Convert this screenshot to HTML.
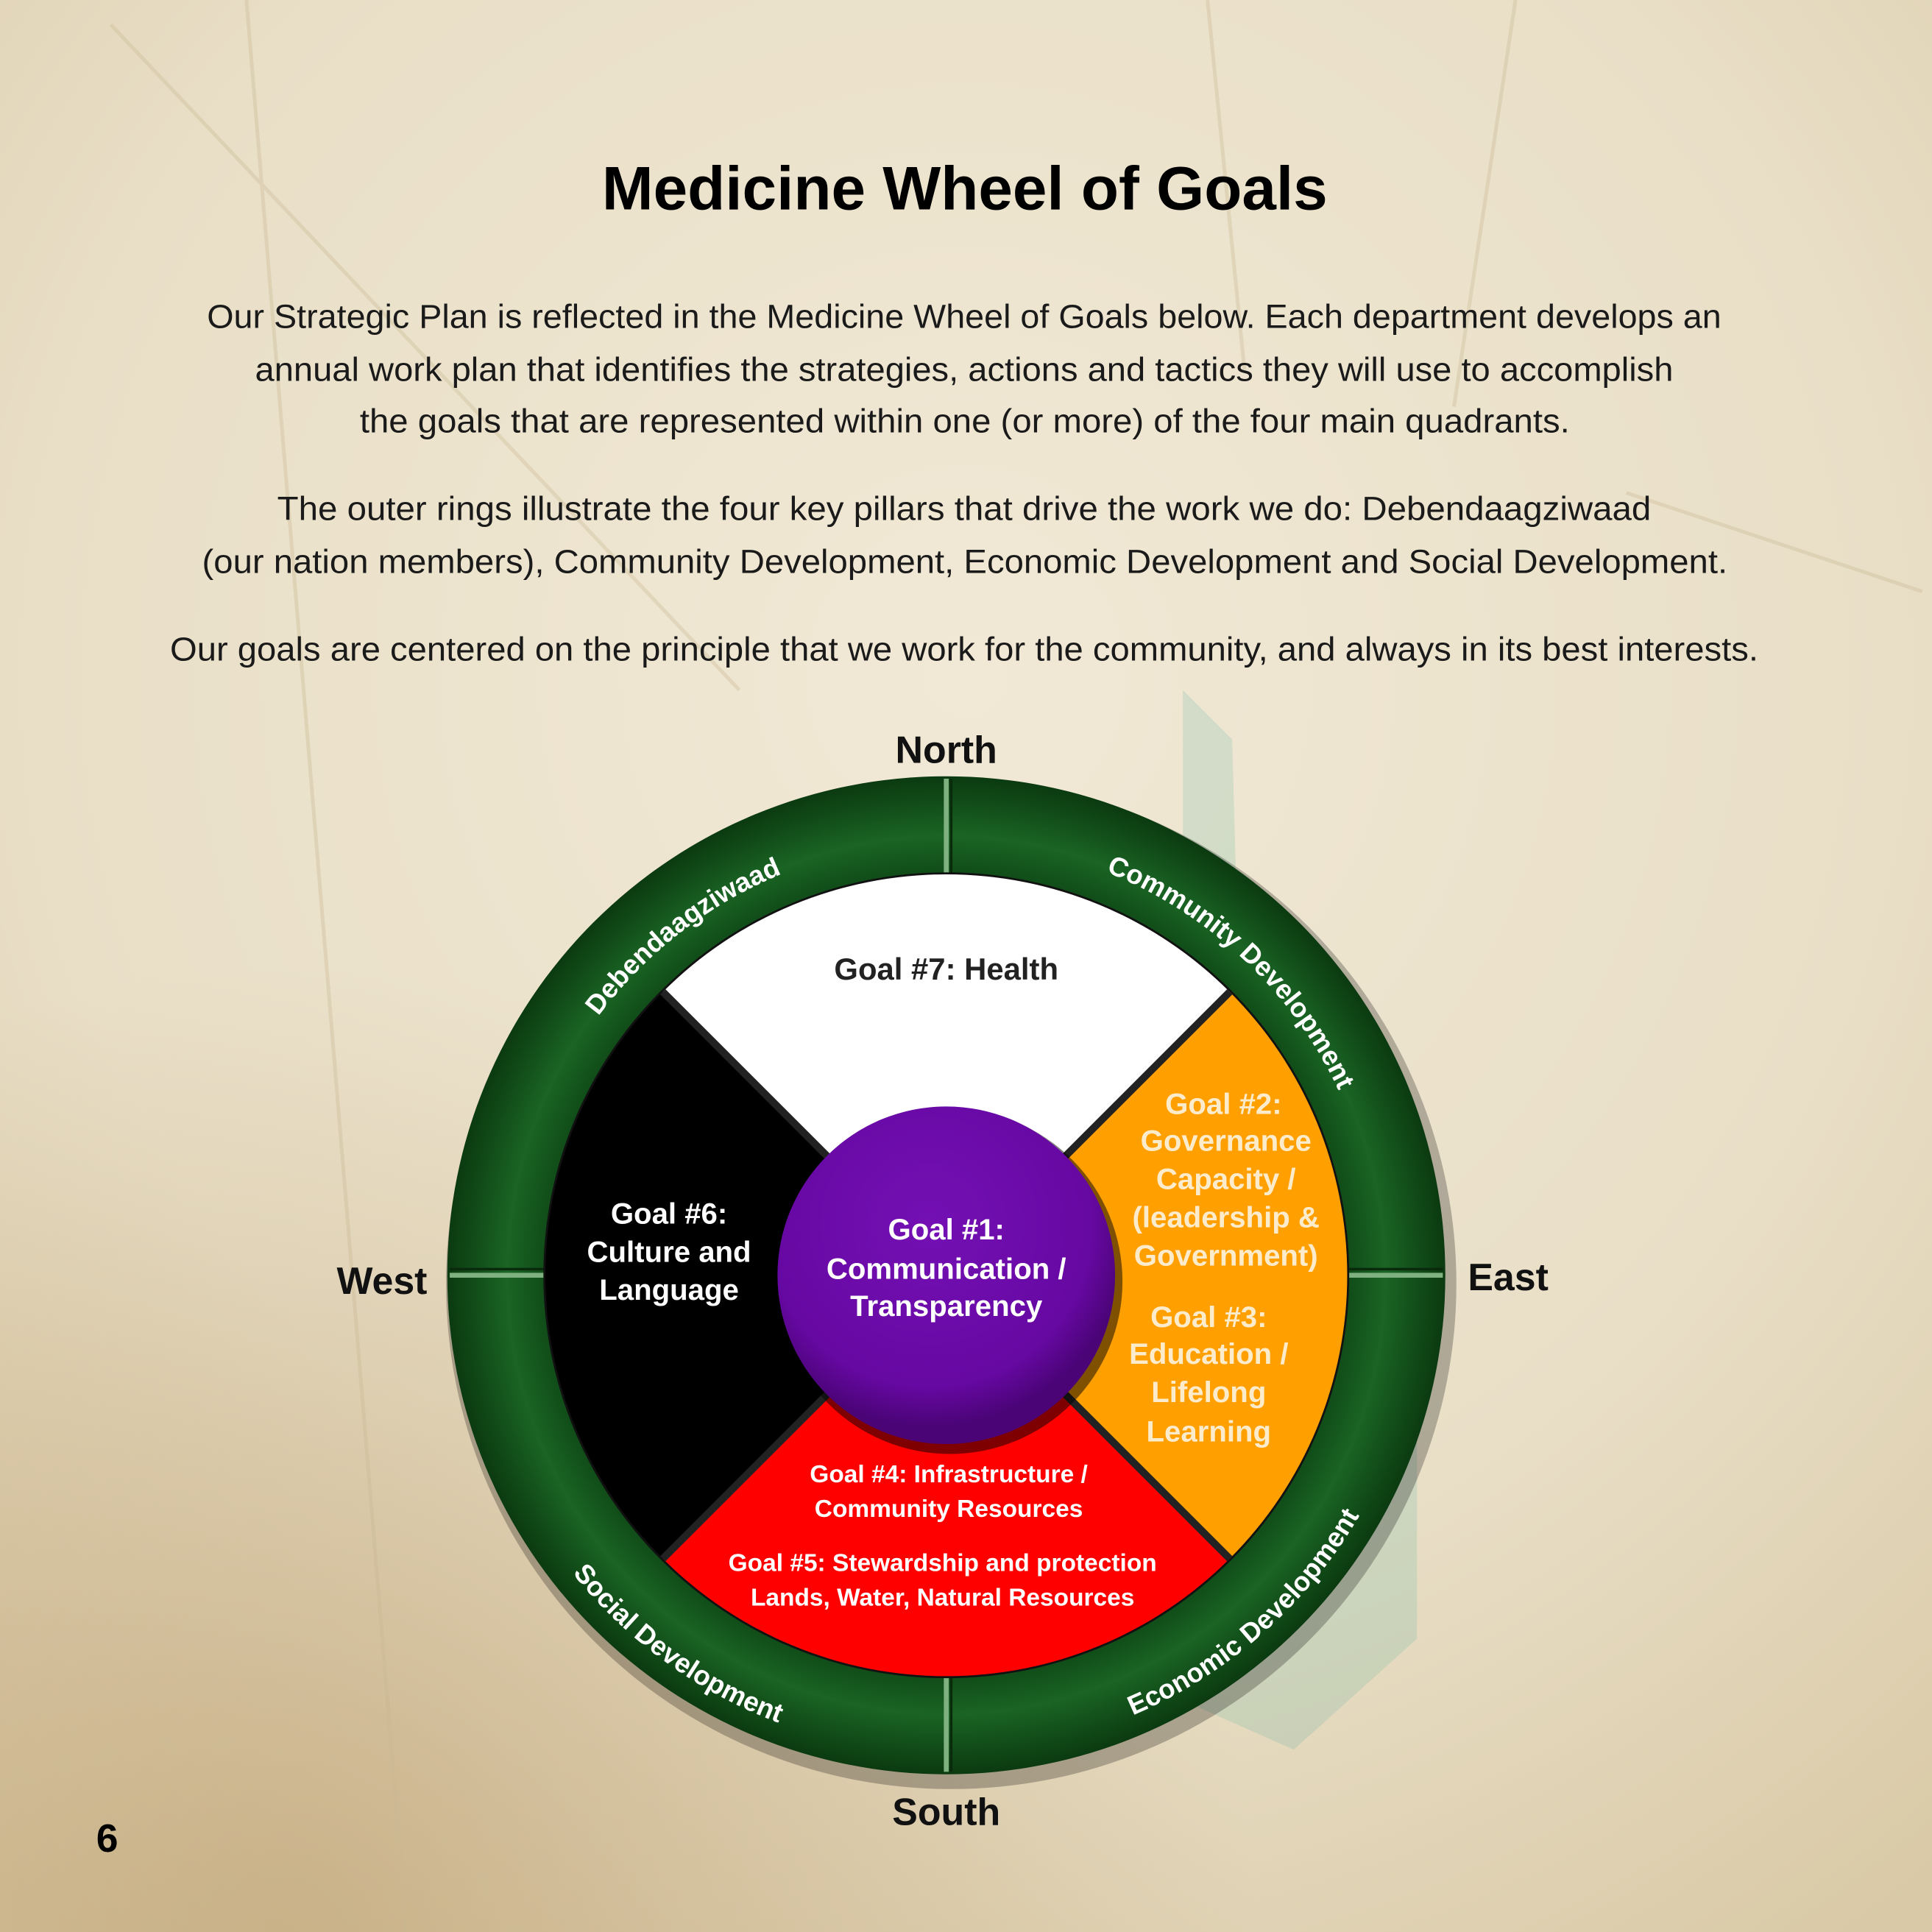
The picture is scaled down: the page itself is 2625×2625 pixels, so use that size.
<!DOCTYPE html>
<html><head><meta charset="utf-8">
<style>
html,body{margin:0;padding:0;}
body{width:2625px;height:2625px;overflow:hidden;background:#ede4cf;}
svg{display:block;}
</style></head>
<body>
<svg width="2625" height="2625" viewBox="0 0 1568 1568" xmlns="http://www.w3.org/2000/svg" font-family="'Liberation Sans', sans-serif">
<defs>
<radialGradient id="bg" cx="0.5" cy="0.35" r="0.8">
<stop offset="0" stop-color="#f1e9d6"/>
<stop offset="0.6" stop-color="#e9dfc7"/>
<stop offset="1" stop-color="#d9c9a6"/>
</radialGradient>
<radialGradient id="bl" cx="0.15" cy="1" r="0.5">
<stop offset="0" stop-color="#b99a6a" stop-opacity="0.55"/>
<stop offset="1" stop-color="#b99a6a" stop-opacity="0"/>
</radialGradient>
<radialGradient id="ring" cx="0.5" cy="0.5" r="0.5">
<stop offset="0.78" stop-color="#0d4414"/>
<stop offset="0.88" stop-color="#1a6424"/>
<stop offset="1" stop-color="#0b3a10"/>
</radialGradient>
<radialGradient id="pur" cx="0.45" cy="0.35" r="0.6">
<stop offset="0" stop-color="#7410b4"/>
<stop offset="0.8" stop-color="#6608a2"/>
<stop offset="1" stop-color="#4a0476"/>
</radialGradient>
<path id="topArc" d="M 416 1035 A 352 352 0 0 1 1120 1035"/>
<path id="botArc" d="M 380 1035 A 388 388 0 0 0 1156 1035"/>
</defs>
<rect width="1568" height="1568" fill="url(#bg)"/>
<rect width="1568" height="1568" fill="url(#bl)"/>
<g stroke="#c9b892" stroke-width="3" opacity="0.35" fill="none">
<path d="M90 20 L600 560"/><path d="M200 0 L330 1568"/><path d="M980 0 L1010 300"/><path d="M1230 0 L1180 330"/><path d="M1320 400 L1560 480"/>
</g>
<path d="M960 560 L1000 600 L1010 960 L1150 1100 L1150 1330 L1050 1420 L960 1380 Z" fill="#5fb2a0" opacity="0.2"/>

<text x="783" y="170" text-anchor="middle" font-size="50" font-weight="bold" fill="#000">Medicine Wheel of Goals</text>
<g font-size="27" fill="#1a1a1a">
<text x="168" y="266" textLength="1229" lengthAdjust="spacingAndGlyphs">Our Strategic Plan is reflected in the Medicine Wheel of Goals below.  Each department develops an</text>
<text x="207" y="309" textLength="1151" lengthAdjust="spacingAndGlyphs">annual work plan that identifies the strategies, actions and tactics they will use to accomplish</text>
<text x="292" y="351" textLength="982" lengthAdjust="spacingAndGlyphs">the goals that are represented within one (or more) of the four main quadrants.</text>
<text x="225" y="422" textLength="1115" lengthAdjust="spacingAndGlyphs">The outer rings illustrate the four key pillars that drive the work we do:  Debendaagziwaad</text>
<text x="164" y="465" textLength="1238" lengthAdjust="spacingAndGlyphs">(our nation members), Community Development, Economic Development and Social Development.</text>
<text x="138" y="536" textLength="1289" lengthAdjust="spacingAndGlyphs">Our goals are centered on the principle that we work for the community, and always in its best interests.</text>
</g>

<circle cx="772" cy="1042" r="410" fill="#000" opacity="0.25"/>
<circle cx="768" cy="1035" r="405" fill="url(#ring)"/>
<g stroke="#7fb07f" stroke-width="4">
<line x1="768" y1="632" x2="768" y2="712"/><line x1="768" y1="1358" x2="768" y2="1438"/>
<line x1="365" y1="1035" x2="445" y2="1035"/><line x1="1091" y1="1035" x2="1171" y2="1035"/>
</g>
<g stroke="#0a2a0c" stroke-width="2">
<line x1="772" y1="632" x2="772" y2="712"/><line x1="772" y1="1358" x2="772" y2="1438"/>
<line x1="365" y1="1030" x2="445" y2="1030"/><line x1="1091" y1="1030" x2="1171" y2="1030"/>
</g>
<circle cx="768" cy="1035" r="327" fill="#111"/>
<path d="M768 1035 L538 805 A325 325 0 0 1 998 805 Z" fill="#ffffff"/>
<path d="M768 1035 L998 805 A325 325 0 0 1 998 1265 Z" fill="#ffa000"/>
<path d="M768 1035 L998 1265 A325 325 0 0 1 538 1265 Z" fill="#ff0000"/>
<path d="M768 1035 L538 1265 A325 325 0 0 1 538 805 Z" fill="#000000"/>
<g stroke="#222" stroke-width="6"><line x1="538" y1="805" x2="998" y2="1265"/><line x1="998" y1="805" x2="538" y2="1265"/></g>
<circle cx="771" cy="1040" r="140" fill="#000" opacity="0.5"/>
<circle cx="768" cy="1035" r="137" fill="url(#pur)"/>

<g font-size="22" font-weight="bold" fill="#fff">
<text><textPath href="#topArc" startOffset="29%" text-anchor="middle">Debendaagziwaad</textPath></text>
<text><textPath href="#topArc" startOffset="74%" text-anchor="middle">Community Development</textPath></text>
<text><textPath href="#botArc" startOffset="30%" text-anchor="middle">Social Development</textPath></text>
<text><textPath href="#botArc" startOffset="73%" text-anchor="middle">Economic Development</textPath></text>
</g>

<g font-weight="bold" text-anchor="middle">
<text x="768" y="795" font-size="25" fill="#222">Goal #7: Health</text>
<g font-size="24" fill="#fff">
<text x="543" y="993">Goal #6:</text><text x="543" y="1024">Culture and</text><text x="543" y="1055">Language</text>
<text x="768" y="1006">Goal #1:</text><text x="768" y="1038">Communication /</text><text x="768" y="1068">Transparency</text>
</g>
<g font-size="24" fill="#fdeccc">
<text x="993" y="904">Goal #2:</text><text x="995" y="934">Governance</text><text x="995" y="965">Capacity /</text><text x="995" y="996">(leadership &amp;</text><text x="995" y="1027">Government)</text>
<text x="981" y="1077">Goal #3:</text><text x="981" y="1107">Education /</text><text x="981" y="1138">Lifelong</text><text x="981" y="1170">Learning</text>
</g>
<g font-size="20" fill="#fff">
<text x="770" y="1203">Goal #4: Infrastructure /</text><text x="770" y="1231">Community Resources</text>
<text x="765" y="1275">Goal #5: Stewardship and protection</text><text x="765" y="1303">Lands, Water, Natural Resources</text>
</g>
<g font-size="31" fill="#111">
<text x="768" y="619">North</text><text x="768" y="1481">South</text>
<text x="310" y="1050">West</text><text x="1224" y="1047">East</text>
</g>
<text x="87" y="1503" font-size="32" fill="#000">6</text>
</g>
</svg>
</body></html>
